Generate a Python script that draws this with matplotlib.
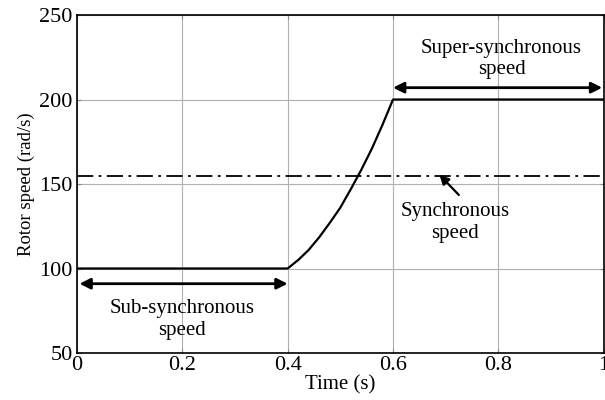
import numpy as np
import matplotlib.pyplot as plt

plt.rcParams['font.family'] = ['Liberation Serif', 'DejaVu Serif']

# rotor speed trace
t = [0.0, 0.4, 0.42, 0.44, 0.46, 0.48, 0.50, 0.52, 0.54, 0.56, 0.58, 0.60, 1.0]
speed = [100, 100, 105, 111, 118.5, 127, 136, 147, 158.5, 171, 185, 200, 200]

sync_speed = 155
x_ticks = [0, 0.2, 0.4, 0.6, 0.8, 1]
y_ticks = [50, 100, 150, 200, 250]

fig = plt.figure(figsize=(6.05, 4.0), dpi=100)
ax = fig.add_axes([0.127, 0.1175, 0.871, 0.845])

ax.plot(t, speed, color='black', lw=1.6)
ax.plot([0, 1], [sync_speed, sync_speed], color='black', lw=1.3,
        dashes=(9, 3, 1.5, 3))

ax.set_xlim(0, 1)
ax.set_ylim(50, 250)
ax.set_xticks(x_ticks)
ax.set_xticklabels(['0', '0.2', '0.4', '0.6', '0.8', '1'])
ax.set_yticks(y_ticks)
ax.grid(True, color='#b0b0b0', lw=0.8)
ax.tick_params(direction='in', length=3, labelsize=16, top=True, right=True,
               color='#888888')
ax.tick_params(axis='x', pad=2)
ax.tick_params(axis='y', pad=3)
for s in ax.spines.values():
    s.set_linewidth(1.2)

ax.set_xlabel('Time (s)', fontsize=15, labelpad=0)
ax.set_ylabel('Rotor speed (rad/s)', fontsize=13.5, labelpad=3)

arrow = dict(arrowstyle='<|-|>', color='black', lw=2, mutation_scale=16,
             shrinkA=0, shrinkB=0)
ax.annotate('', xy=(0.005, 91), xytext=(0.4, 91), arrowprops=arrow)
ax.annotate('', xy=(0.6, 207), xytext=(0.997, 207), arrowprops=arrow)
ax.annotate('', xy=(0.688, 155.5), xytext=(0.725, 143.5),
            arrowprops=dict(arrowstyle='-|>', color='black', lw=1.6,
                            mutation_scale=14, shrinkA=0, shrinkB=0))

ax.text(0.2, 70, 'Sub-synchronous\nspeed', ha='center', va='center',
        fontsize=15)
ax.text(0.806, 224, 'Super-synchronous\nspeed', ha='center', va='center',
        fontsize=15)
ax.text(0.718, 127, 'Synchronous\nspeed', ha='center', va='center',
        fontsize=15)

fig.savefig('out.png', dpi=100)
